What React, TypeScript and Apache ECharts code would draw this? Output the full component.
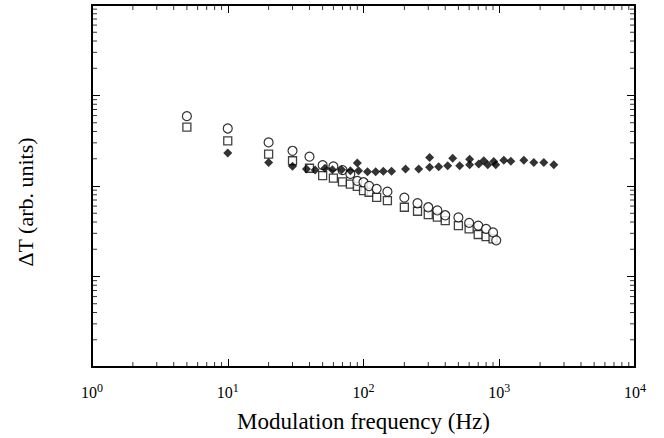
import React, { useEffect, useRef } from "react";
import * as echarts from "echarts";

// Open circles
const circleFreq = [5, 10, 20, 30, 40, 50, 60, 70, 80, 90, 100, 110, 125, 150, 200, 250, 300, 350, 400, 500, 600, 700, 800, 900, 950];
const circleDT = [5.91, 4.32, 3.03, 2.45, 2.11, 1.7, 1.65, 1.5, 1.36, 1.14, 1.1, 1.0, 0.93, 0.865, 0.743, 0.645, 0.582, 0.537, 0.475, 0.45, 0.391, 0.365, 0.336, 0.307, 0.251];
// Open squares
const squareFreq = [5, 10, 20, 30, 40, 50, 60, 70, 80, 90, 100, 110, 125, 150, 200, 250, 300, 350, 400, 500, 600, 700, 800, 900];
const squareDT = [4.47, 3.16, 2.25, 1.9, 1.57, 1.3, 1.22, 1.11, 1.05, 0.99, 0.888, 0.853, 0.75, 0.689, 0.582, 0.526, 0.483, 0.452, 0.415, 0.365, 0.336, 0.291, 0.276, 0.261];
// Filled diamonds
const diamondFreq = [10, 20, 30, 38, 44, 52, 59, 69, 80, 90, 92, 107, 123, 140, 161, 204, 255, 307, 307, 358, 417, 454, 511, 605, 605, 706, 769, 823, 911, 942, 1080, 1217, 1517, 1798, 2129, 2524];
const diamondDT = [2.31, 1.82, 1.65, 1.54, 1.5, 1.57, 1.51, 1.51, 1.47, 1.79, 1.47, 1.44, 1.44, 1.46, 1.46, 1.54, 1.54, 2.07, 1.61, 1.63, 1.67, 2.03, 1.67, 1.98, 1.72, 1.75, 1.9, 1.72, 1.87, 1.72, 1.93, 1.88, 1.93, 1.82, 1.82, 1.72];

// Axis ranges and minor tick positions
const xRange = [1, 10000];
const yRange = [0.01, 100];
const xMinorTicks = [2, 3, 4, 5, 6, 7, 8, 9, 20, 30, 40, 50, 60, 70, 80, 90, 200, 300, 400, 500, 600, 700, 800, 900, 2000, 3000, 4000, 5000, 6000, 7000, 8000, 9000];
const yMinorTicks = [0.02, 0.03, 0.04, 0.05, 0.06, 0.07, 0.08, 0.09, 0.2, 0.3, 0.4, 0.5, 0.6, 0.7, 0.8, 0.9, 2, 3, 4, 5, 6, 7, 8, 9, 20, 30, 40, 50, 60, 70, 80, 90];

const xTitle = "Modulation frequency (Hz)";
const yTitle = "ΔT (arb. units)";

const FONT = "'Liberation Serif', 'Times New Roman', serif";
const MINOR = 4;

export default function App() {
  const ref = useRef<HTMLDivElement>(null);
  useEffect(() => {
    if (!ref.current) return;
    const chart = echarts.init(ref.current, undefined, { renderer: "svg" });
    const baseAxis = {
      type: "log",
      logBase: 10,
      axisLine: { show: true, onZero: false, lineStyle: { color: "#000", width: 2 } },
      axisTick: { show: true, inside: true, length: 8, lineStyle: { color: "#000", width: 1 } },
      axisLabel: { show: false },
      splitLine: { show: false },
    };
    const tickSeries = (data: number[][], size: number[], offset: number[]) => ({
      type: "scatter",
      silent: true,
      clip: false,
      symbol: "rect",
      symbolSize: size,
      symbolOffset: offset,
      itemStyle: { color: "#000" },
      z: 1,
      data,
    });
    chart.setOption({
      animation: false,
      grid: { left: 92, right: 29, top: 5, bottom: 70, containLabel: false },
      xAxis: [
        {
          ...baseAxis,
          position: "bottom",
          min: xRange[0],
          max: xRange[1],
          name: xTitle,
          nameLocation: "middle",
          nameGap: 43,
          nameTextStyle: { fontFamily: FONT, fontSize: 23, color: "#000" },
          axisLabel: {
            show: true,
            margin: 15,
            fontFamily: FONT,
            fontSize: 16,
            color: "#000",
            formatter: (v: number) => `{b|10}{sup|${Math.round(Math.log10(v))}}`,
            rich: {
              b: { fontFamily: FONT, fontSize: 16, color: "#000", lineHeight: 20 },
              sup: { fontFamily: FONT, fontSize: 12, color: "#000", lineHeight: 20, padding: [0, 0, 8, 0] },
            },
          },
        },
        { ...baseAxis, position: "top", min: xRange[0], max: xRange[1] },
      ],
      yAxis: [
        { ...baseAxis, position: "left", min: yRange[0], max: yRange[1] },
        { ...baseAxis, position: "right", min: yRange[0], max: yRange[1] },
      ],
      graphic: [
        {
          type: "text",
          x: 25,
          y: 202,
          rotation: Math.PI / 2,
          style: {
            text: yTitle,
            font: `22px ${FONT}`,
            fill: "#000",
            textAlign: "center",
            textVerticalAlign: "middle",
          },
        },
      ],
      series: [
        tickSeries(xMinorTicks.map((v) => [v, yRange[0]]), [1, MINOR], [0, -MINOR / 2 - 1]),
        tickSeries(xMinorTicks.map((v) => [v, yRange[1]]), [1, MINOR], [0, MINOR / 2 + 1]),
        tickSeries(yMinorTicks.map((v) => [xRange[0], v]), [MINOR, 1], [MINOR / 2 + 1, 0]),
        tickSeries(yMinorTicks.map((v) => [xRange[1], v]), [MINOR, 1], [-MINOR / 2 - 1, 0]),
        {
          type: "scatter",
          name: "squares",
          symbol: "rect",
          symbolSize: 8,
          itemStyle: { color: "#fff", borderColor: "#111", borderWidth: 1.3 },
          data: squareFreq.map((f, i) => [f, squareDT[i]]),
        },
        {
          type: "scatter",
          name: "circles",
          symbol: "circle",
          symbolSize: 9,
          itemStyle: { color: "#fff", borderColor: "#000", borderWidth: 1.2 },
          data: circleFreq.map((f, i) => [f, circleDT[i]]),
        },
        {
          type: "scatter",
          name: "diamonds",
          symbol: "diamond",
          symbolSize: 9,
          itemStyle: { color: "#000" },
          data: diamondFreq.map((f, i) => [f, diamondDT[i]]),
        },
      ],
    });
    return () => chart.dispose();
  }, []);
  return <div ref={ref} style={{ width: 664, height: 438, position: "fixed", left: 0, top: 0, background: "#fff" }} />;
}
